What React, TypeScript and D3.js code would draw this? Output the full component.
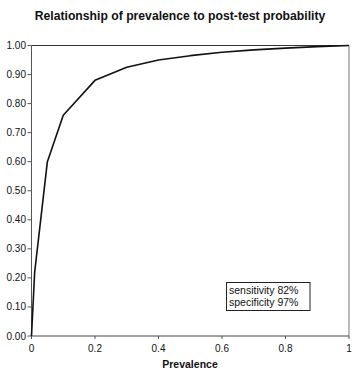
import React from "react";
import * as d3 from "d3";

const prevalence = [0, 0.01, 0.05, 0.1, 0.2, 0.3, 0.4, 0.5, 0.6, 0.7, 0.8, 0.9, 1.0];
const postTest = [0, 0.22, 0.6, 0.76, 0.88, 0.925, 0.95, 0.965, 0.977, 0.985, 0.991, 0.996, 1.0];
const yTicks = [0, 0.1, 0.2, 0.3, 0.4, 0.5, 0.6, 0.7, 0.8, 0.9, 1.0];
const xTicks = [0, 0.2, 0.4, 0.6, 0.8, 1];
const xTickLabels = ["0", "0.2", "0.4", "0.6", "0.8", "1"];
const legendLines = ["sensitivity 82%", "specificity 97%"];
const title = "Relationship of prevalence to post-test probability";
const xLabel = "Prevalence";

export default function App() {
  const W = 359, H = 376;
  const x = d3.scaleLinear().domain([0, 1]).range([31.5, 349]);
  const y = d3.scaleLinear().domain([0, 1]).range([336, 45.5]);
  const line = d3.line<number>()
    .x((_, i) => x(prevalence[i]))
    .y((d) => y(d));
  const font = "'Liberation Sans', Arial, sans-serif";
  return (
    <svg width={W} height={H} style={{ position: "absolute", left: 0, top: 0, background: "#fff" }}>
      <rect x={0} y={0} width={W} height={H} fill="#fff" />
      <text x={180} y={19.5} textAnchor="middle" fontFamily={font} fontWeight="bold" fontSize={12.2} fill="#111">{title}</text>
      <line x1={x(0)} x2={x(1)} y1={y(1)} y2={y(1)} stroke="#333" strokeWidth={1} />
      <line x1={x(1)} x2={x(1)} y1={y(1)} y2={y(0)} stroke="#777" strokeWidth={1} />
      <line x1={x(0)} x2={x(0)} y1={y(1)} y2={y(0)} stroke="#555" strokeWidth={1} />
      <line x1={x(0)} x2={x(1)} y1={y(0)} y2={y(0)} stroke="#444" strokeWidth={1} />
      {yTicks.map((t) => (
        <g key={t}>
          <line x1={x(0) - 4} x2={x(0)} y1={y(t)} y2={y(t)} stroke="#555" />
          <text x={26} y={y(t) + 3.5} textAnchor="end" fontFamily={font} fontSize={10} fill="#111">{t.toFixed(2)}</text>
        </g>
      ))}
      {xTicks.map((t, i) => (
        <g key={t}>
          <line x1={x(t)} x2={x(t)} y1={y(0)} y2={y(0) + 3} stroke="#555" />
          <text x={x(t)} y={352} textAnchor="middle" fontFamily={font} fontSize={10} fill="#111">{xTickLabels[i]}</text>
        </g>
      ))}
      <text x={190} y={368} textAnchor="middle" fontFamily={font} fontWeight="bold" fontSize={10.5} fill="#111">{xLabel}</text>
      <path d={line(postTest) || ""} fill="none" stroke="#111" strokeWidth={1.6} strokeLinejoin="round" />
      <rect x={226.5} y={282.5} width={83.5} height={28} fill="#fff" stroke="#222" strokeWidth={1} />
      {legendLines.map((l, i) => (
        <text key={l} x={229} y={293.5 + i * 12} fontFamily={font} fontSize={10.5} fill="#111">{l}</text>
      ))}
    </svg>
  );
}
